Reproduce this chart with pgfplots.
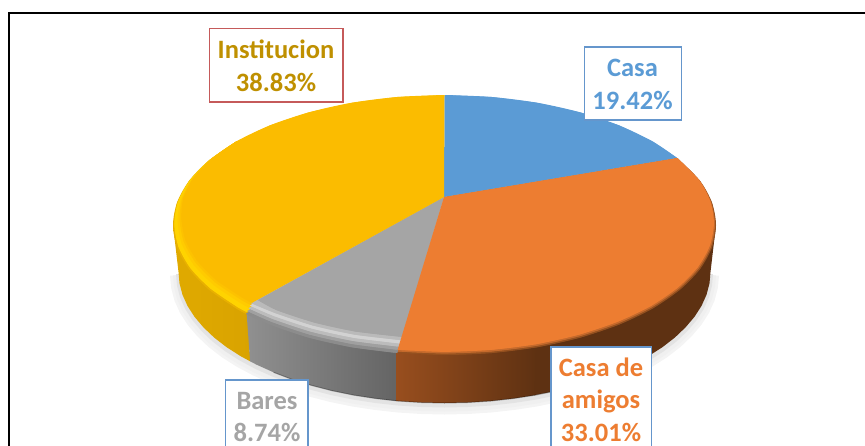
\documentclass[border=0pt]{standalone}
\usepackage{fontspec}
\setmainfont{Carlito}
\usepackage{pgfplots}
\pgfplotsset{compat=1.18}
\definecolor{cblue}{HTML}{5B9BD5}
\definecolor{corange}{HTML}{ED7D31}
\definecolor{cgray}{HTML}{A5A5A5}
\definecolor{cyellow}{HTML}{FBBC00}
\definecolor{ctext}{HTML}{BF9000}
\definecolor{cboxb}{HTML}{6596CC}
\definecolor{cboxr}{HTML}{C55A5A}
\newcommand{\lab}[3]{\node[anchor=base,text=#3,font=\fontsize{26.5}{26.5}\selectfont\bfseries,inner sep=0pt] at (axis cs:#1) {#2};}
% one pie sector at one rim level: the polygon from the apex, and the smoothed arc over it
\newcommand{\sector}[2]{%
\addplot[fill=#1,draw=none,forget plot] coordinates {(444,197) #2} -- cycle;
\addplot[fill=#1,draw=none,smooth,forget plot] coordinates {#2} -- cycle;
}
\newcommand{\bottomarc}{(710.5,272)(709.5,283.4)(706.5,294.8)(701.5,305.9)(694.5,316.8)(685.5,327.4)(674.9,337.5)(662.4,347.2)(648.3,356.2)(632.6,364.6)(615.5,372.3)(597.2,379.3)(577.5,385.4)(557,390.7)(535.5,395.1)(513.4,398.5)(490.8,401)(467.6,402.5)(444.5,403)(421.4,402.5)(398.2,401)(375.6,398.5)(353.5,395.1)(332,390.7)(311.5,385.4)(291.8,379.3)(273.5,372.3)(256.4,364.6)(240.7,356.2)(226.6,347.2)(214.1,337.5)(203.5,327.4)(194.5,316.8)(187.5,305.9)(182.5,294.8)(179.5,283.4)(178.5,272)}
\definecolor{w1}{HTML}{E0AA00}\definecolor{w2}{HTML}{D9A300}
\definecolor{w3}{HTML}{909090}\definecolor{w4}{HTML}{646464}
\definecolor{w5}{HTML}{984E1E}\definecolor{w6}{HTML}{5E3112}
\definecolor{og0}{HTML}{94501F}\definecolor{og1}{HTML}{C56A2C}
\definecolor{gy0}{HTML}{8C8C8C}\definecolor{gy1}{HTML}{A0A0A0}\definecolor{gy2}{HTML}{BCBCBC}\definecolor{gy3}{HTML}{D2D2D2}\definecolor{gy4}{HTML}{BABABA}
\definecolor{ye0}{HTML}{E8B000}\definecolor{ye1}{HTML}{FFD300}\definecolor{ye2}{HTML}{FFCB00}\definecolor{ye3}{HTML}{FDC200}
\begin{document}
\begin{tikzpicture}
\clip (0,0) rectangle (865pt,445pt);
\begin{axis}[
  scale only axis,width=865pt,height=445pt,
  xmin=0,xmax=865,ymin=0,ymax=445,y dir=reverse,
  hide axis,clip=true]
% frame
\addplot[black,line width=1.4pt,forget plot] coordinates {(9,446)(9,13)(866,13)};
% soft shadow below the pie
\edef\tmpa{\noexpand\addplot[gray!9,line width=17pt,yshift=-3pt,forget plot] coordinates {\bottomarc};}\tmpa
\edef\tmpa{\noexpand\addplot[gray!12,line width=11pt,yshift=-3pt,forget plot] coordinates {\bottomarc};}\tmpa
\edef\tmpa{\noexpand\addplot[gray!22,line width=5pt,yshift=-2pt,forget plot] coordinates {\bottomarc};}\tmpa
% walls
\addplot[draw=none,forget plot,left color=w1,right color=w2] coordinates {
(248,305)(173,225)(178.5,272)(179.5,283.4)(182.5,294.8)(187.5,305.9)(194.5,316.8)(203.5,327.4)(214.1,337.5)(226.6,347.2)(240.7,356.2)(250.1,361.3)} -- cycle;
\addplot[draw=none,forget plot,left color=w3,right color=w4] coordinates {
(397,345)(246,305)(250.1,361.3)(256.4,364.6)(273.5,372.3)(291.8,379.3)(311.5,385.4)(332,390.7)(353.5,395.1)(375.6,398.5)(397,401)} -- cycle;
\addplot[draw=none,forget plot,left color=w5,right color=w6] coordinates {
(396.5,340)(537.4,340)(535.5,395.1)(513.4,398.5)(490.8,401)(467.6,402.5)(444.5,403)(421.4,402.5)(396.5,401)} -- cycle;
\addplot[draw=none,fill=w6,forget plot] coordinates {
(536.5,340)(700,240)(716,225)(710.5,272)(709.5,283.4)(706.5,294.8)(701.5,305.9)(694.5,316.8)(685.5,327.4)(674.9,337.5)(662.4,347.2)(648.3,356.2)(632.6,364.6)(615.5,372.3)(597.2,379.3)(577.5,385.4)(557,390.7)(534.5,395.1)} -- cycle;
% dark lower edge of the wall
\addplot[black,opacity=0.3,line width=1pt,forget plot] coordinates {
(648.3,356.2)(632.6,364.6)(615.5,372.3)(597.2,379.3)(577.5,385.4)(557,390.7)(535.5,395.1)(513.4,398.5)(490.8,401)(467.6,402.5)(444.5,403)(421.4,402.5)(398.2,401)(375.6,398.5)(353.5,395.1)(332,390.7)(311.5,385.4)(291.8,379.3)(273.5,372.3)};
% orange rim levels
\sector{og0}{(677.2,158)(699.7,180.5)(711.9,202.4)(716,225)(711.9,247.6)(699.7,269.5)(679.6,290)(652.5,308.6)(619.1,324.6)(580.3,337.6)(537.4,347.2)(491.7,353)(444.5,355)(397.3,353)}
\sector{og1}{(677.2,158)(699.4,180.2)(711,201.9)(715,224.2)(710.9,246.7)(698.7,268.4)(678.7,288.8)(651.7,307.3)(618.4,323.2)(579.8,336.1)(537,345.7)(491.5,351.5)(444.5,353.4)(397.5,351.5)}
% yellow rim levels
\sector{ye0}{(246,313.7)(236.5,308.6)(209.4,290)(189.3,269.5)(177.1,247.6)(173,225)(177.1,202.4)(189.3,180.5)(209.4,160)(236.5,141.4)}
\sector{ye1}{(246.9,312)(237.5,307)(210.5,288.5)(190.5,268.2)(178.4,246.5)(174.3,224)(178,201.8)(189.9,180.2)(209.7,159.9)(236.5,141.4)}
\sector{ye2}{(249.5,307.7)(240.1,302.7)(213.4,284.7)(193.7,264.7)(181.7,243.5)(177.7,221.4)(180.6,200.2)(191.5,179.3)(210.4,159.5)(236.5,141.4)}
\sector{ye3}{(251,304.9)(241.7,300)(215.2,282.2)(195.7,262.5)(183.8,241.5)(179.8,219.8)(182.1,199.2)(192.5,178.8)(210.8,159.4)(236.5,141.4)}
% gray rim levels
\sector{gy0}{(397.3,353)(351.6,347.2)(308.7,337.6)(269.9,324.6)(246,313.7)}
\sector{gy1}{(398.1,349.8)(352.4,344)(309.8,334.6)(271.3,321.7)(247.2,311)}
\sector{gy2}{(399,346.6)(353.1,340.9)(310.9,331.6)(272.7,318.9)(248.5,308.2)}
\sector{gy3}{(399.9,343.4)(353.9,337.8)(311.9,328.5)(274,316)(249.8,305.5)}
\sector{gy4}{(400.9,340.1)(354.6,334.6)(313,325.5)(275.4,313.1)(250.9,303)}
% top surface
\sector{cblue}{(444.5,95)(491.7,97)(537.4,102.8)(580.3,112.4)(619.1,125.4)(652.5,141.4)(677.2,158)}
\sector{cgray}{(402.2,336.9)(355.4,331.5)(314.1,322.5)(276.8,310.2)(257.8,300)}
\sector{corange}{(677.2,158)(699,180)(710.3,201.4)(713.9,223.4)(709.8,245.7)(697.7,267.3)(677.8,287.6)(650.9,306)(617.7,321.7)(579.2,334.6)(536.7,344.1)(491.4,349.8)(444.5,351.8)(397.6,349.8)}
\sector{cyellow}{(252.2,302.7)(243,297.9)(216.7,280.3)(197.3,260.7)(185.5,240)(181.5,218.5)(183.4,198.4)(193.3,178.4)(211.2,159.2)(236.5,141.4)(269.9,125.4)(308.7,112.4)(351.6,102.8)(397.3,97)(444.5,95)}
% label boxes
\draw[cboxr,line width=1.3pt,fill=white] (axis cs:209.5,28.5) rectangle (axis cs:343,102);
\draw[cboxb,line width=1.3pt,fill=white] (axis cs:584.5,47) rectangle (axis cs:681.5,120);
\draw[cboxb,line width=1.3pt,fill=white] (axis cs:551,347) rectangle (axis cs:651.5,460);
\draw[cboxb,line width=1.3pt,fill=white] (axis cs:225.5,380) rectangle (axis cs:308,460);
\lab{276,58}{Institucion}{ctext}
\lab{276,91}{38.83\%}{ctext}
\lab{632.5,76.7}{Casa}{cblue}
\lab{632.5,109}{19.42\%}{cblue}
\lab{601,376}{Casa de}{corange}
\lab{601,408}{amigos}{corange}
\lab{601,441.7}{33.01\%}{corange}
\lab{267,409}{Bares}{cgray}
\lab{267,441.7}{8.74\%}{cgray}
\end{axis}
\end{tikzpicture}
\end{document}
